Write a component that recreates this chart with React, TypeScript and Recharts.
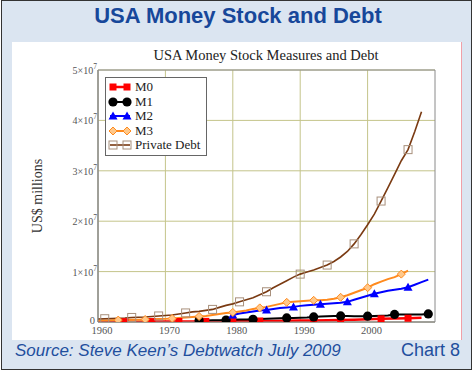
import React from 'react';
import { LineChart, Line, XAxis, YAxis, CartesianGrid, ReferenceArea } from 'recharts';

// Values in units of 10^7 US$ millions
const debtYears = [1960,1961,1962,1963,1964,1965,1966,1967,1968,1969,1970,1971,1972,1973,1974,1975,1976,1977,1978,1979,1980,1981,1982,1983,1984,1985,1986,1987,1988,1989,1990,1991,1992,1993,1994,1995,1996,1997,1998,1999,2000,2001,2002,2003,2004,2005,2006,2007,2008];
const privateDebt = [0.06,0.065,0.07,0.075,0.08,0.09,0.095,0.1,0.11,0.12,0.13,0.14,0.16,0.18,0.2,0.21,0.23,0.25,0.29,0.33,0.36,0.4,0.44,0.48,0.54,0.6,0.68,0.75,0.82,0.89,0.95,0.99,1.03,1.08,1.13,1.2,1.29,1.4,1.55,1.73,1.93,2.14,2.4,2.66,2.93,3.2,3.42,3.78,4.17];
const debtMarkers = [1961,1965,1969,1973,1977,1981,1985,1990,1994,1998,2002,2006];

const m3Years = [1960,1961,1962,1963,1964,1965,1966,1967,1968,1969,1970,1971,1972,1973,1974,1975,1976,1977,1978,1979,1980,1981,1982,1983,1984,1985,1986,1987,1988,1989,1990,1991,1992,1993,1994,1995,1996,1997,1998,1999,2000,2001,2002,2003,2004,2005,2006];
const m3 = [0.03,0.032,0.035,0.038,0.04,0.043,0.046,0.05,0.055,0.058,0.062,0.07,0.08,0.09,0.1,0.11,0.12,0.14,0.16,0.18,0.19,0.21,0.23,0.26,0.28,0.3,0.33,0.36,0.39,0.4,0.41,0.42,0.43,0.43,0.44,0.46,0.49,0.53,0.58,0.63,0.68,0.75,0.8,0.85,0.89,0.95,1.02];
const m3Markers = [1963,1967,1971,1975,1980,1984,1988,1992,1996,2000,2005];

const m2Years = [1980,1981,1982,1983,1984,1985,1986,1987,1988,1989,1990,1991,1992,1993,1994,1995,1996,1997,1998,1999,2000,2001,2002,2003,2004,2005,2006,2007,2008,2009];
const m2 = [0.14,0.17,0.19,0.21,0.23,0.24,0.26,0.28,0.29,0.3,0.32,0.33,0.34,0.35,0.36,0.37,0.38,0.4,0.44,0.48,0.52,0.56,0.59,0.62,0.64,0.66,0.69,0.74,0.79,0.84];
const m2Markers = [1980,1985,1989,1993,1997,2001,2006];

const m1Years = [1975,1976,1977,1978,1979,1980,1981,1982,1983,1984,1985,1986,1987,1988,1989,1990,1991,1992,1993,1994,1995,1996,1997,1998,1999,2000,2001,2002,2003,2004,2005,2006,2007,2008,2009];
const m1 = [0.03,0.03,0.035,0.037,0.04,0.045,0.05,0.05,0.055,0.06,0.065,0.07,0.075,0.08,0.08,0.085,0.09,0.1,0.11,0.115,0.12,0.12,0.12,0.115,0.115,0.115,0.12,0.125,0.13,0.15,0.15,0.15,0.15,0.15,0.16];
const m1Markers = [1975,1979,1983,1988,1992,1996,2000,2004,2009];

const m0Years = [1960,1962,1964,1966,1968,1970,1972,1974,1976,1978,1980,1982,1984,1986,1988,1990,1992,1994,1996,1998,2000,2002,2004,2006,2008];
const m0 = [0.005,0.005,0.006,0.007,0.008,0.009,0.01,0.012,0.013,0.015,0.016,0.018,0.02,0.022,0.025,0.028,0.031,0.035,0.04,0.046,0.055,0.063,0.07,0.075,0.082];
const m0Markers = [1964,1968,1972,1976,1980,1984,1988,1992,1996,2002,2006];

const xTicks = [1960, 1970, 1980, 1990, 2000];
const yTicks = [0, 1, 2, 3, 4, 5];
const exponent = 7;

const mainTitle = 'USA Money Stock and Debt';
const chartTitle = 'USA Money Stock Measures and Debt';
const yLabel = 'US$ millions';
const sourceText = 'Source: Steve Keen\u2019s Debtwatch July 2009';
const chartNo = 'Chart 8';

const toSeries = (years: number[], vals: number[]) => years.map((y, i) => ({ year: y, value: vals[i] }));

type Shape = 'square' | 'circle' | 'triangle' | 'diamond' | 'hollowSquare';

const Marker = ({ shape, cx, cy, color }: { shape: Shape; cx: number; cy: number; color: string }) => {
  switch (shape) {
    case 'square':
      return <rect x={cx - 3.5} y={cy - 3.5} width={7} height={7} fill={color} />;
    case 'circle':
      return <circle cx={cx} cy={cy} r={4.6} fill={color} />;
    case 'triangle':
      return <polygon points={`${cx},${cy - 4.5} ${cx + 4.5},${cy + 3.5} ${cx - 4.5},${cy + 3.5}`} fill={color} />;
    case 'diamond':
      return <polygon points={`${cx},${cy - 4} ${cx + 4},${cy} ${cx},${cy + 4} ${cx - 4},${cy}`} fill="#ffc88a" stroke={color} strokeWidth={1} />;
    default:
      return <rect x={cx - 4} y={cy - 4} width={8} height={8} fill="none" stroke="#a8907c" strokeWidth={1} />;
  }
};

const makeDot = (shape: Shape, color: string, markers: number[]) => (props: any) => {
  const { cx, cy, payload, index } = props;
  if (!markers.includes(payload.year) || cx == null || cy == null) return <g key={`d${index}`} />;
  return (
    <g key={`d${index}`}>
      <Marker shape={shape} cx={cx} cy={cy} color={color} />
    </g>
  );
};

const series = [
  { name: 'M0', data: toSeries(m0Years, m0), color: '#ff0000', width: 2.5, shape: 'square' as Shape, markers: m0Markers },
  { name: 'M1', data: toSeries(m1Years, m1), color: '#000000', width: 2, shape: 'circle' as Shape, markers: m1Markers },
  { name: 'M2', data: toSeries(m2Years, m2), color: '#0000ff', width: 2, shape: 'triangle' as Shape, markers: m2Markers },
  { name: 'M3', data: toSeries(m3Years, m3), color: '#ff8a1e', width: 2, shape: 'diamond' as Shape, markers: m3Markers },
  { name: 'Private Debt', data: toSeries(debtYears, privateDebt), color: '#7a3a12', width: 1.6, shape: 'hollowSquare' as Shape, markers: debtMarkers },
];

const serif = '"Liberation Serif", "Times New Roman", serif';
const sans = '"Liberation Sans", Arial, sans-serif';

const YTick = (props: any) => {
  const { x, y, payload } = props;
  const v = payload.value;
  if (v === 0) {
    return <text x={x - 2} y={y + 2} textAnchor="end" fontSize={10.5} fill="#555" fontFamily={serif}>0</text>;
  }
  return (
    <text x={x} y={y + 4} textAnchor="end" fontSize={10} fill="#555" fontFamily={serif}>
      <tspan>{`${v}\u00d710`}</tspan>
      <tspan dy={-5} fontSize={7.5}>{exponent}</tspan>
    </text>
  );
};

const XTick = (props: any) => {
  const { x, y, payload } = props;
  return (
    <text x={x + 4} y={y + 10} textAnchor="middle" fontSize={10.5} fill="#555" fontFamily={serif}>{payload.value}</text>
  );
};

const LegendBox = () => (
  <div style={{ position: 'absolute', left: 105, top: 77, width: 100, height: 77, border: '1px solid #666', background: '#fff', fontFamily: serif, fontSize: 13, color: '#222' }}>
    {series.map((s, i) => (
      <div key={s.name} style={{ position: 'absolute', left: 2, top: 2 + i * 14.6, height: 14, display: 'flex', alignItems: 'center' }}>
        <svg width={24} height={12} style={{ display: 'block' }}>
          <line x1={2} y1={6} x2={22} y2={6} stroke={s.color} strokeWidth={s.width} />
          <Marker shape={s.shape} cx={5} cy={6} color={s.color} />
          <Marker shape={s.shape} cx={19} cy={6} color={s.color} />
        </svg>
        <span style={{ marginLeft: 3, whiteSpace: 'nowrap', lineHeight: '14px' }}>{s.name}</span>
      </div>
    ))}
  </div>
);

export default function App() {
  return (
    <div style={{ position: 'absolute', left: 0, top: 0, width: 475, height: 373, overflow: 'hidden', background: '#fff' }}>
      <div style={{ position: 'absolute', left: 1, top: 0, width: 469, height: 368, border: '1.5px solid #333', background: '#dbe5f1' }} />
      <div style={{ position: 'absolute', left: 0, top: 3, width: 476, textAlign: 'center', fontFamily: sans, fontWeight: 'bold', fontSize: 22, lineHeight: '26px', color: '#17479a' }}>{mainTitle}</div>
      <div style={{ position: 'absolute', left: 12, top: 42, width: 449, height: 298, background: '#fff', borderRight: '1px solid #f0a0a8' }} />
      <div style={{ position: 'absolute', left: 0, top: 47, width: 532, textAlign: 'center', fontFamily: serif, fontSize: 14.5, color: '#222', whiteSpace: 'nowrap' }}>{chartTitle}</div>
      <div style={{ position: 'absolute', left: 38 - 60, top: 196 - 9, width: 120, height: 18, textAlign: 'center', transform: 'rotate(-90deg)', fontFamily: serif, fontSize: 14, color: '#333', lineHeight: '18px', whiteSpace: 'nowrap' }}>{yLabel}</div>
      <div style={{ position: 'absolute', left: 0, top: 0 }}>
        <LineChart width={475} height={373} margin={{ top: 70, right: 40, bottom: 29, left: 58 }}>
          <CartesianGrid stroke="#c4c48a" strokeWidth={1} verticalValues={xTicks} horizontalValues={yTicks} />
          <ReferenceArea x1={1960} x2={2010} y1={0} y2={5} fill="none" stroke="#8a8a8a" strokeWidth={1} ifOverflow="visible" />
          <XAxis type="number" dataKey="year" domain={[1960, 2010]} ticks={xTicks} allowDataOverflow tick={<XTick />} tickLine={false} tickSize={0} tickMargin={2} axisLine={{ stroke: '#8a8a8a' }} height={22} />
          <YAxis type="number" domain={[0, 5]} ticks={yTicks} allowDataOverflow tick={<YTick />} tickLine={false} tickSize={0} tickMargin={1} axisLine={{ stroke: '#8a8a8a' }} width={40} />
          {series.map((s) => (
            <Line key={s.name} data={s.data} dataKey="value" name={s.name} type="linear" stroke={s.color} strokeWidth={s.width} dot={makeDot(s.shape, s.color, s.markers)} activeDot={false} isAnimationActive={false} />
          ))}
        </LineChart>
      </div>
      <LegendBox />
      <div style={{ position: 'absolute', left: 15, top: 341, fontFamily: sans, fontStyle: 'italic', fontSize: 17, color: '#1f4f9e', whiteSpace: 'nowrap', lineHeight: '20px' }}>{sourceText}</div>
      <div style={{ position: 'absolute', right: 15, top: 340, fontFamily: sans, fontSize: 18, color: '#1f4f9e', whiteSpace: 'nowrap', lineHeight: '20px' }}>{chartNo}</div>
    </div>
  );
}
